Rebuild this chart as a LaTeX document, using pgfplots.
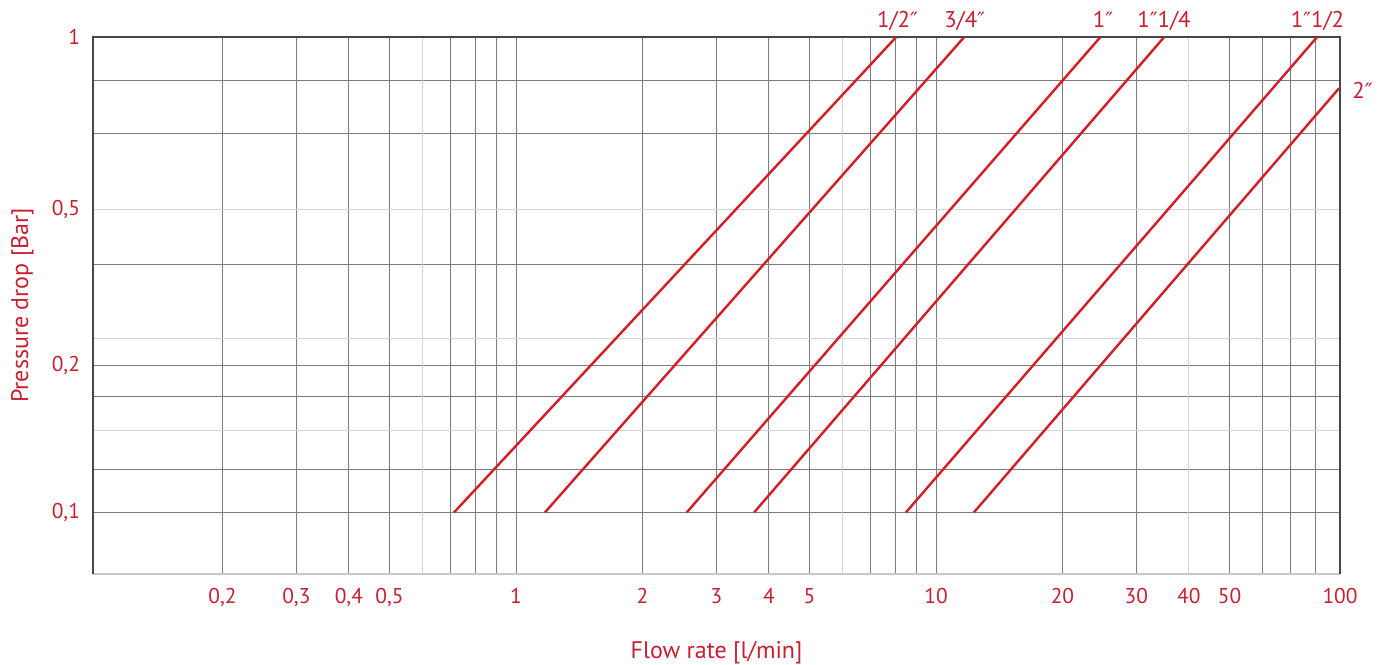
\documentclass[border=0pt]{standalone}
\usepackage{pgfplots}
\pgfplotsset{compat=1.18}
\usepackage{fontspec}
\setmainfont{PT Sans}
\newfontfamily\djv{DejaVu Sans}
\newcommand{\dq}{{\djv\fontsize{10.5}{12}\selectfont ″}}
\definecolor{txtred}{RGB}{200,32,48}
\definecolor{linered}{RGB}{214,28,36}
\definecolor{gridgray}{RGB}{125,125,125}
\definecolor{gridfaint}{RGB}{212,212,212}
\definecolor{framedark}{RGB}{70,70,70}
\definecolor{framelight}{RGB}{200,200,200}
\begin{document}
\begin{tikzpicture}
\useasboundingbox (0,0) rectangle (694.5pt,332.5pt);
\begin{axis}[
  at={(46.5pt,45.5pt)}, anchor=south west,
  scale only axis, width=623.5pt, height=268.35pt,
  xmode=log, ymode=log,
  xmin=0.09837, xmax=91.6, ymin=0.0742, ymax=1,
  clip=false,
  axis line style={draw=none},
  xtick={0.2,0.3,0.4,0.5,0.7,0.8,0.9,1,2,3,4,5,7,8,9,10,20,30,50,60,70,80,91.6},
  xticklabels={{0,2},{0,3},{0,4},{0,5},,,,1,2,3,4,5,,,,10,20,30,50,,,,100},
  extra x ticks={0.6,6,40},
  extra x tick labels={,,40},
  ytick={0.1,0.1231,0.1754,0.204,0.333,0.628,0.812,1},
  yticklabels={{0,1},,,{0,2},,,,1},
  extra y ticks={0.1488,0.2325,0.434},
  extra y tick labels={,,{0,5}},
  major tick length=0pt, minor tick length=0pt,
  xminorgrids=false, yminorgrids=false,
  grid=major,
  major grid style={gridgray, line width=0.45pt},
  extra x tick style={grid=major, major grid style={gridfaint, line width=0.6pt}},
  extra y tick style={grid=major, major grid style={gridfaint, line width=0.6pt}},
  ticklabel style={font=\fontsize{10.7}{12}\selectfont, text=txtred},
  xticklabel style={yshift=-3.5pt},
  yticklabel style={xshift=-3pt},
]
\draw[framelight, line width=0.8pt] (rel axis cs:0,0) -- (rel axis cs:1,0);
\draw[framedark, line width=0.8pt] (rel axis cs:0,0) -- (rel axis cs:0,1) -- (rel axis cs:1,1) -- (rel axis cs:1,0);
\addplot[linered, line width=1.2pt] coordinates {(0.712,0.1) (8.03,1)};
\addplot[linered, line width=1.2pt] coordinates {(1.172,0.1) (11.66,1)};
\addplot[linered, line width=1.2pt] coordinates {(2.55,0.1) (24.6,1)};
\addplot[linered, line width=1.2pt] coordinates {(3.69,0.1) (34.9,1)};
\addplot[linered, line width=1.2pt] coordinates {(8.48,0.1) (80.7,1)};
\addplot[linered, line width=1.2pt] coordinates {(12.31,0.1) (91.1,0.781)};
\begin{scope}[every node/.style={text=txtred, font=\fontsize{11.4}{13}\selectfont, inner sep=0pt}]
\node[anchor=base] at ([yshift=5pt]axis cs:8.1,1) {1/2\dq};
\node[anchor=base] at ([yshift=5pt]axis cs:11.7,1) {3/4\dq};
\node[anchor=base] at ([yshift=5pt]axis cs:25,1) {1\dq};
\node[anchor=base] at ([yshift=5pt]axis cs:34.9,1) {1\dq1/4};
\node[anchor=base] at ([yshift=5pt]axis cs:81,1) {1\dq1/2};
\node[anchor=base west] at ([xshift=6.5pt,yshift=-5pt]axis cs:91.1,0.781) {2\dq};
\end{scope}
\end{axis}
\node[anchor=base, text=txtred, font=\fontsize{12}{14}\selectfont] at (358.25pt,3pt) {Flow rate [l/min]};
\node[anchor=base, rotate=90, text=txtred, font=\fontsize{12}{14}\selectfont] at (14pt,179.75pt) {Pressure drop [Bar]};
\end{tikzpicture}
\end{document}
